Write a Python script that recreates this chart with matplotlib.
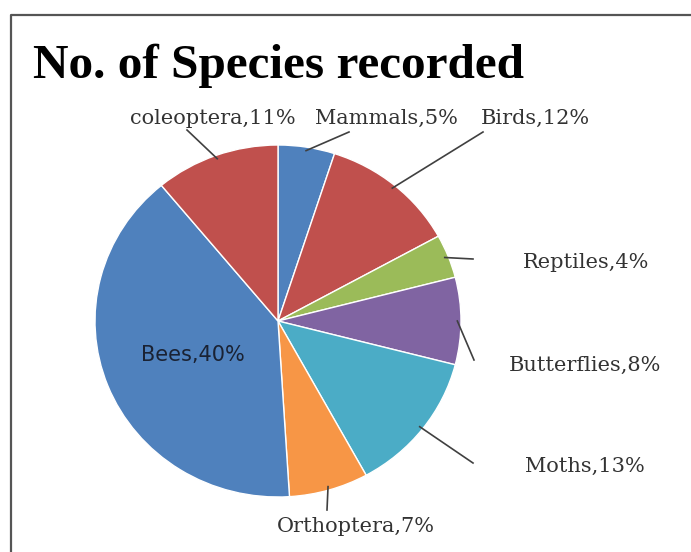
import matplotlib.pyplot as plt
import numpy as np

categories = ['Mammals', 'Birds', 'Reptiles', 'Butterflies', 'Moths', 'Orthoptera', 'Bees', 'coleoptera']
percents = [5, 12, 4, 8, 13, 7, 40, 11]
colors = ['#4F81BD', '#C0504D', '#9BBB59', '#8064A2', '#4BACC6', '#F79646', '#4F81BD', '#C0504D']

# label placement in pixels (top-left origin) and leader end points
label_pos = [(386, 118), (535, 118), (586, 263), (585, 365), (585, 466), (356, 526), (193, 355), (213, 118)]
leader_end = [(349, 132), (483, 132), (473, 259), (474, 360), (473, 463), (327, 510), None, (187, 130)]

W, H = 691, 552
fig = plt.figure(figsize=(W / 100, H / 100), dpi=100)

# ellipse box of the pie in pixels
cx, cy, rx, ry = 278, 321, 183, 176
ax_pie = fig.add_axes([(cx - rx) / W, (H - cy - ry) / H, 2 * rx / W, 2 * ry / H])
wedges, _ = ax_pie.pie(percents, colors=colors, startangle=90, counterclock=False,
                       radius=1, wedgeprops=dict(linewidth=1, edgecolor='white'))
ax_pie.set_aspect('auto')
ax_pie.set_xlim(-1, 1)
ax_pie.set_ylim(-1, 1)
ax_pie.axis('off')

# overlay in pixel coords
ov = fig.add_axes([0, 0, 1, 1], zorder=5)
ov.set_xlim(0, W)
ov.set_ylim(H, 0)
ov.axis('off')
ov.patch.set_alpha(0)

# chart border
ov.plot([11, 11, W + 5], [H + 5, 15, 15], color='#555555', lw=1.6, solid_capstyle='butt')

ov.text(33, 66, 'No. of Species recorded', fontsize=35.5, fontweight='bold',
        family='Liberation Serif', va='center', ha='left', color='black')

for w, cat, p, pos, end in zip(wedges, categories, percents, label_pos, leader_end):
    txt = f'{cat},{p}%'
    if end is None:
        ov.text(pos[0], pos[1], txt, fontsize=15, family='DejaVu Sans',
                ha='center', va='center', color='#1a2233')
        continue
    ang = np.deg2rad((w.theta1 + w.theta2) / 2)
    sx = cx + 0.98 * rx * np.cos(ang)
    sy = cy - 0.98 * ry * np.sin(ang)
    ov.plot([sx, end[0]], [sy, end[1]], color='#404040', lw=1.2)
    ov.text(pos[0], pos[1], txt, fontsize=15, family='DejaVu Serif',
            ha='center', va='center', color='#333333')

fig.savefig('out.png', dpi=100)
